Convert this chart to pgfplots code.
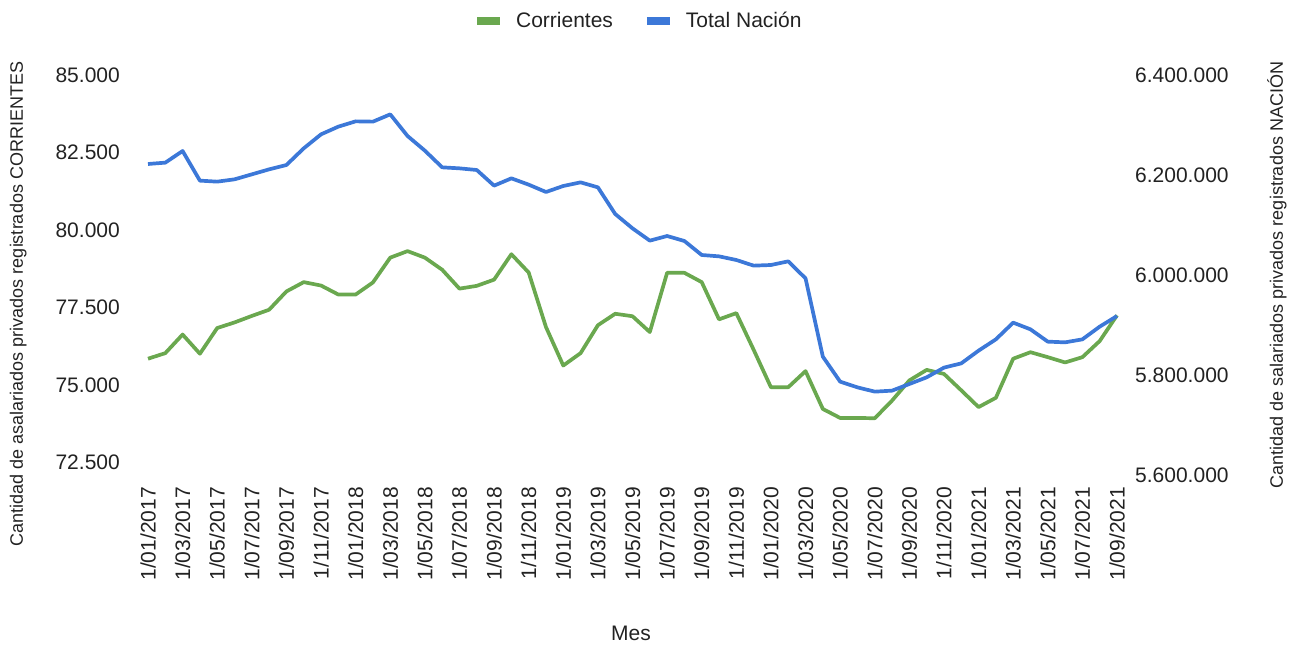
\documentclass[border=0pt]{standalone}
\usepackage{pgfplots}
\pgfplotsset{compat=1.18}
\usepackage{fontspec}
\setmainfont{Liberation Sans}
\definecolor{cgreen}{HTML}{6AA84F}
\definecolor{cblue}{HTML}{3C78D8}
\definecolor{ctext}{HTML}{222222}
\newcommand{\tf}{\fontsize{21}{25}\selectfont}
\newcommand{\lf}{\fontsize{18}{22}\selectfont}
\begin{document}
\begin{tikzpicture}
\path[use as bounding box] (0,0) rectangle (1299pt,651pt);
\pgfplotsset{
  every axis/.append style={
    at={(148pt,176pt)}, anchor=south west,
    scale only axis, width=969pt, height=400pt,
    xmin=0, xmax=56, clip=false,
    axis line style={draw=none},
    major tick length=0pt,
    scaled y ticks=false,
    tick label style={font=\tf, text=ctext},
    label style={text=ctext},
  }
}
\begin{axis}[
  ymin=72100, ymax=85000,
  xtick={0,2,...,56},
  xticklabels={1/01/2017,1/03/2017,1/05/2017,1/07/2017,1/09/2017,1/11/2017,1/01/2018,1/03/2018,1/05/2018,1/07/2018,1/09/2018,1/11/2018,1/01/2019,1/03/2019,1/05/2019,1/07/2019,1/09/2019,1/11/2019,1/01/2020,1/03/2020,1/05/2020,1/07/2020,1/09/2020,1/11/2020,1/01/2021,1/03/2021,1/05/2021,1/07/2021,1/09/2021},
  xticklabel style={rotate=90, anchor=east, inner sep=0pt},
  xticklabel shift=12pt,
  ytick={72500,75000,77500,80000,82500,85000},
  yticklabels={72.500,75.000,77.500,80.000,82.500,85.000},
  yticklabel style={anchor=east, inner sep=0pt},
  yticklabel shift=28pt,
  xlabel={Mes},
  xlabel style={font=\tf, at={(rel axis cs:0.4985,-0.395)}, anchor=center},
  ylabel={Cantidad de asalariados privados registrados CORRIENTES},
  ylabel style={font=\lf, at={(rel axis cs:-0.134,0.4275)}, anchor=center, rotate=0},
]
\addplot[cgreen, line width=3.7pt, line join=round] coordinates {
(0,75850) (1,76030) (2,76630) (3,76010) (4,76840) (5,77020) (6,77230) (7,77430)
(8,78020) (9,78320) (10,78210) (11,77920) (12,77920) (13,78310) (14,79110) (15,79320)
(16,79110) (17,78720) (18,78110) (19,78200) (20,78400) (21,79220) (22,78630) (23,76870)
(24,75630) (25,76030) (26,76930) (27,77300) (28,77220) (29,76710) (30,78620) (31,78620)
(32,78320) (33,77120) (34,77320) (35,76140) (36,74930) (37,74930) (38,75450) (39,74230)
(40,73940) (41,73940) (42,73930) (43,74500) (44,75150) (45,75490) (46,75360) (47,74830)
(48,74290) (49,74590) (50,75850) (51,76060) (52,75900) (53,75730) (54,75900) (55,76420)
(56,77250)
};
\end{axis}
\begin{axis}[
  ymin=5600000, ymax=6400000,
  hide x axis,
  yticklabel pos=right,
  ytick={5600000,5800000,6000000,6200000,6400000},
  yticklabels={5.600.000,5.800.000,6.000.000,6.200.000,6.400.000},
  yticklabel style={anchor=west, inner sep=0pt},
  yticklabel shift=18pt,
  ylabel={Cantidad de salariados privados registrados NACIÓN},
  ylabel style={font=\lf, at={(rel axis cs:1.165,0.5)}, anchor=center, rotate=0},
  legend columns=2,
  legend style={at={(rel axis cs:0.506,1.135)}, anchor=center, draw=none, fill=none,
    font=\tf, text=ctext,
    /tikz/every odd column/.append style={column sep=10pt},
    /tikz/every even column/.append style={column sep=28pt}},
  legend image code/.code={\draw[#1, line width=8pt] (0pt,0pt) -- (23pt,0pt);},
]
\addlegendimage{cgreen, line width=3.7pt}
\addlegendentry{Corrientes}
\addplot[cblue, line width=3.7pt, line join=round] coordinates {
(0,6222000) (1,6224700) (2,6248000) (3,6188700) (4,6186700) (5,6191300) (6,6201300) (7,6211300)
(8,6220000) (9,6253300) (10,6281300) (11,6296700) (12,6307300) (13,6306700) (14,6321300) (15,6278000)
(16,6248700) (17,6215300) (18,6213300) (19,6210000) (20,6178700) (21,6193300) (22,6180700) (23,6166000)
(24,6178000) (25,6185300) (26,6175300) (27,6122000) (28,6093300) (29,6068700) (30,6078000) (31,6068000)
(32,6040000) (33,6037300) (34,6030000) (35,6018700) (36,6020000) (37,6027300) (38,5993300) (39,5836700)
(40,5786700) (41,5775300) (42,5766700) (43,5768700) (44,5782000) (45,5795300) (46,5814700) (47,5823300)
(48,5848700) (49,5871300) (50,5904700) (51,5891300) (52,5866700) (53,5865300) (54,5871300) (55,5896700)
(56,5918000)
};
\addlegendentry{Total Nación}
\end{axis}
\end{tikzpicture}
\end{document}
